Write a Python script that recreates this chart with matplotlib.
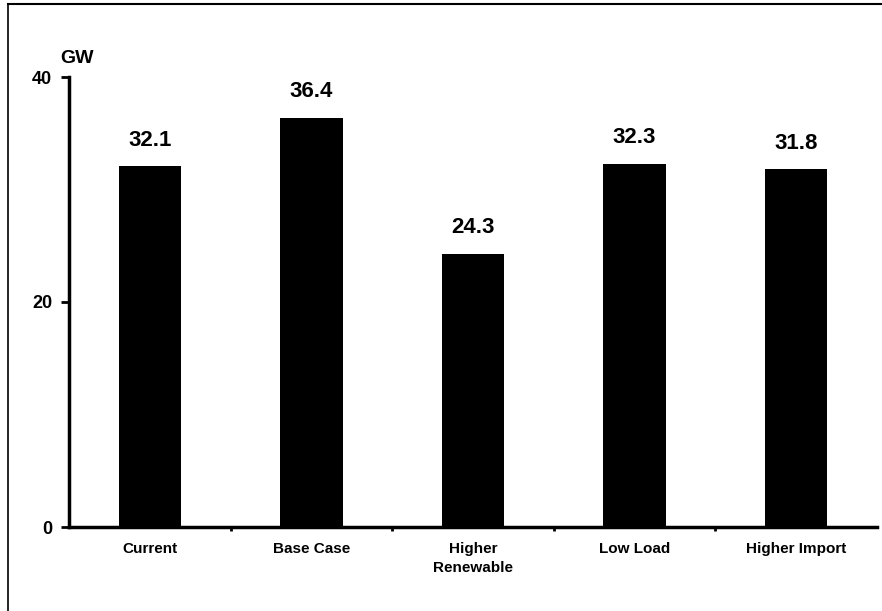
import matplotlib.pyplot as plt
from matplotlib.lines import Line2D
import numpy as np

plt.rcParams['font.family'] = ['Liberation Sans', 'DejaVu Sans']

# generating capacity by scenario
scenarios = ['Current', 'Base Case', 'Higher\nRenewable', 'Low Load', 'Higher Import']
capacity_gw = [32.1, 36.4, 24.3, 32.3, 31.8]
y_ticks = [0, 20, 40]

fig = plt.figure(figsize=(8.82, 6.11), dpi=100)
ax = fig.add_axes([69 / 882, 1 - 527 / 611, 808 / 882, 450 / 611])

x = np.arange(len(scenarios)) + 0.5
bars = ax.bar(x, capacity_gw, width=0.385, color='black')

for b, v in zip(bars, capacity_gw):
    ax.annotate(f'{v:.1f}', (b.get_x() + b.get_width() / 2, v),
                xytext=(0, 11), textcoords='offset points',
                ha='center', va='bottom', fontsize=16, fontweight='bold')

ax.set_xlim(0, len(scenarios))
ax.set_ylim(0, 40)
ax.set_yticks(y_ticks)
ax.set_yticklabels([str(t) for t in y_ticks], fontsize=13, fontweight='bold')
ax.tick_params(axis='y', length=6, width=2, pad=6)

ax.set_xticks(x)
ax.set_xticklabels(scenarios, fontsize=11, fontweight='bold', linespacing=1.45)
ax.tick_params(axis='x', length=0, pad=11)
ax.set_xticks(np.arange(1, len(scenarios)), minor=True)
ax.tick_params(axis='x', which='minor', length=3, width=2)

for side in ['top', 'right']:
    ax.spines[side].set_visible(False)
for side in ['left', 'bottom']:
    ax.spines[side].set_linewidth(2.5)

fig.text(60 / 882, 1 - 63 / 611, 'GW', fontsize=14, fontweight='bold', ha='left', va='baseline')

# page frame lines
fig.add_artist(Line2D([8 / 882, 8 / 882], [0, 1 - 4 / 611], color='black', lw=1.2))
fig.add_artist(Line2D([8 / 882, 1], [1 - 4 / 611, 1 - 4 / 611], color='black', lw=1.5))

fig.savefig('out.png', dpi=100)
